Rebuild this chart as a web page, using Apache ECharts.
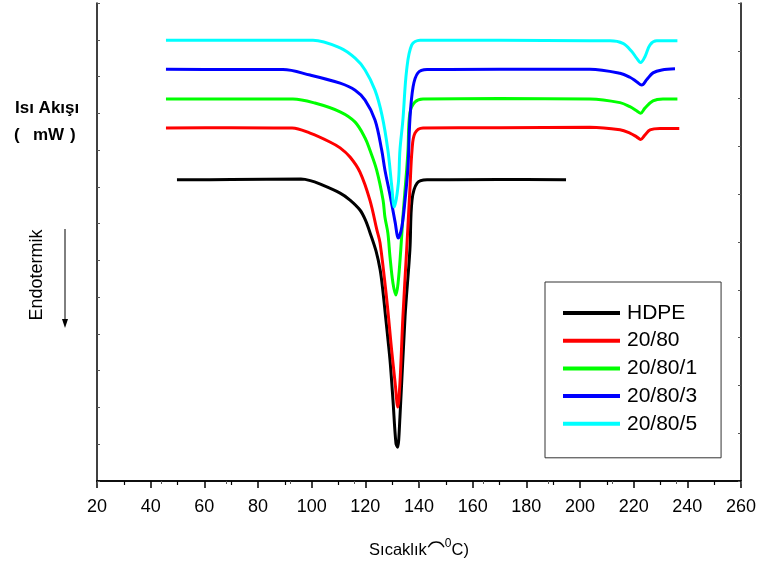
<!DOCTYPE html>
<html>
<head>
<meta charset="utf-8">
<script src="https://cdn.jsdelivr.net/npm/echarts@6/dist/echarts.min.js"></script>
<style>
  html, body { margin: 0; padding: 0; background: #fff; }
  #chart { width: 760px; height: 564px; }
</style>
</head>
<body>
<div id="chart"></div>
<script>
// DSC heating curves: temperature (°C) vs. heat flow (arbitrary offset, mW)
const seriesNames = ['HDPE', '20/80', '20/80/1', '20/80/3', '20/80/5'];
const seriesColors = ['#000000', '#ff0000', '#00ff00', '#0000ff', '#00ffff'];
const xTicks = [20, 40, 60, 80, 100, 120, 140, 160, 180, 200, 220, 240, 260];

const hdpe = [
  [49.8, 8.19], [70, 8.20], [96, 8.21], [99.5, 8.17], [103, 8.08], [110.6, 7.83],
  [114.3, 7.64], [118, 7.37], [120, 7.10], [122, 6.70], [124, 6.25], [125.5, 5.75],
  [126.5, 5.20], [127.5, 4.50], [128.5, 3.80], [129.3, 3.20], [130.3, 2.20], [131.4, 1.03],
  [132, 0.92], [132.9, 1.74], [134.8, 4.46], [136.6, 6.28], [137.4, 7.64], [139.3, 8.10],
  [143, 8.19], [170, 8.20], [194.8, 8.19]
];

const blend2080 = [
  [45.7, 9.60], [70, 9.61], [92.7, 9.60], [99.4, 9.46], [106.8, 9.22], [110.6, 9.06],
  [114.3, 8.81], [118.0, 8.40], [121.7, 7.64], [124.3, 6.83], [125.5, 6.47], [128.0, 4.92],
  [129.8, 3.56], [131.1, 2.67], [132.1, 2.01], [132.9, 2.67], [134.0, 4.46], [135.4, 6.28],
  [136.6, 7.91], [137.4, 9.00], [138.5, 9.46], [141.5, 9.60], [170, 9.61], [203.7, 9.62],
  [214.9, 9.55], [218.6, 9.46], [221.1, 9.36], [222.6, 9.29], [224.2, 9.41], [226.1, 9.55],
  [229.8, 9.59], [237.0, 9.59]
];

const blend2080_1 = [
  [45.7, 10.39], [70, 10.39], [93.0, 10.39], [101.2, 10.28], [110.6, 10.04], [116.2, 9.76],
  [119.9, 9.33], [121.7, 9.00], [124.2, 8.46], [126.6, 7.64], [127.3, 7.18], [128.4, 6.74],
  [129.2, 6.09], [130.3, 5.38], [131.4, 5.06], [132.2, 5.38], [133.2, 6.28], [134.0, 7.18],
  [135.4, 8.46], [135.9, 9.00], [136.6, 10.01], [138.5, 10.31], [141.5, 10.39], [170, 10.40],
  [203.7, 10.39], [214.9, 10.29], [218.6, 10.18], [221.1, 10.07], [222.6, 10.00], [224.2, 10.14],
  [227.2, 10.34], [230.9, 10.39], [236.3, 10.39]
];

const blend2080_3 = [
  [45.7, 11.20], [70, 11.19], [89.3, 11.19], [99.4, 11.04], [110.6, 10.82], [116.2, 10.63],
  [119.9, 10.36], [123.6, 9.82], [126.1, 9.00], [127.3, 8.46], [129.2, 7.78], [131.1, 7.04],
  [132.3, 6.61], [133.6, 6.91], [134.8, 7.64], [135.9, 8.54], [136.6, 9.82], [137.8, 10.72],
  [139.6, 11.10], [143.0, 11.19], [170, 11.20], [203.7, 11.20], [214.9, 11.09], [218.6, 10.98],
  [221.1, 10.86], [223.0, 10.77], [224.9, 10.92], [227.2, 11.10], [230.5, 11.18], [235.4, 11.21]
];

const blend2080_5 = [
  [45.7, 11.99], [70, 11.99], [100.5, 11.99], [110.6, 11.78], [116.2, 11.50], [119.9, 11.18],
  [123.6, 10.63], [126.2, 9.95], [128.4, 9.00], [129.8, 8.05], [130.8, 7.45], [132.3, 8.10],
  [132.9, 9.00], [134.0, 9.82], [135.4, 11.18], [137.3, 11.86], [140.4, 11.99], [170, 11.99],
  [203.7, 11.97], [211.2, 11.97], [216.0, 11.90], [219.3, 11.68], [221.1, 11.50], [222.6, 11.38],
  [224.2, 11.54], [226.1, 11.86], [228.6, 11.97], [236.3, 11.97]
];

const curves = [hdpe, blend2080, blend2080_1, blend2080_3, blend2080_5];

const FONT = '"Liberation Sans", Arial, sans-serif';
const chart = echarts.init(document.getElementById('chart'), null, { renderer: 'canvas' });

const frameLine = { show: true, lineStyle: { color: '#000', width: 1.5 } };
const innerTick = { show: true, inside: true, length: 3, lineStyle: { color: '#555', width: 1 } };

chart.setOption({
  animation: false,
  backgroundColor: '#fff',
  grid: { left: 97, right: 19, top: 3, bottom: 83, containLabel: false, outerBoundsMode: 'none' },
  xAxis: [
    {
      type: 'value', position: 'bottom', min: xTicks[0], max: xTicks[xTicks.length - 1], interval: 20,
      axisLine: frameLine,
      axisTick: { show: true, inside: false, length: 7, lineStyle: { color: '#000', width: 1.5 } },
      minorTick: { show: true, splitNumber: 2, length: 4, lineStyle: { color: '#000', width: 1.2 } },
      splitLine: { show: false },
      axisLabel: { color: '#000', fontSize: 18, fontFamily: FONT, margin: 17 },
      name: '{t|Sıcaklık}{arc|⁀}{sup|0}{t|C)}',
      nameLocation: 'middle', nameGap: 47,
      nameTextStyle: {
        rich: {
          t: { fontSize: 16.5, fontFamily: FONT, color: '#000' },
          arc: { fontSize: 30, fontFamily: FONT, color: '#000', padding: [14, 0, 0, 0] },
          sup: { fontSize: 12, fontFamily: FONT, color: '#000', padding: [0, 0, 12, 0] }
        }
      }
    },
    {
      type: 'value', position: 'top', min: 0, max: 10, interval: 1,
      axisLine: frameLine, axisTick: innerTick,
      axisLabel: { show: false }, splitLine: { show: false }
    }
  ],
  yAxis: [
    {
      type: 'value', position: 'left', min: 0, max: 13, interval: 1,
      axisLine: frameLine, axisTick: innerTick,
      axisLabel: { show: false }, splitLine: { show: false }
    },
    {
      type: 'value', position: 'right', min: 0, max: 10, interval: 1,
      axisLine: frameLine, axisTick: innerTick,
      axisLabel: { show: false }, splitLine: { show: false }
    }
  ],
  legend: {
    orient: 'vertical', left: 545, top: 282,
    data: seriesNames,
    icon: 'rect', itemWidth: 57, itemHeight: 4, itemGap: 5.7,
    padding: [20, 24, 23, 18],
    borderColor: '#333', borderWidth: 1,
    textStyle: { color: '#000', fontSize: 21, fontFamily: FONT, lineHeight: 22, padding: [0, 0, 0, 2] }
  },
  series: curves.map((d, i) => ({
    name: seriesNames[i], type: 'line', data: d,
    xAxisIndex: 0, yAxisIndex: 0,
    smooth: 0.35, showSymbol: false, symbol: 'none',
    lineStyle: { color: seriesColors[i], width: 3 },
    itemStyle: { color: seriesColors[i] }
  })),
  graphic: [
    { type: 'text', left: 15, top: 100, style: { text: 'Isı Akışı', font: 'bold 17px ' + FONT, fill: '#000' } },
    { type: 'text', left: 14, top: 127, style: { text: '(', font: 'bold 17px ' + FONT, fill: '#000' } },
    { type: 'text', left: 33, top: 127, style: { text: 'mW', font: 'bold 17px ' + FONT, fill: '#000' } },
    { type: 'text', left: 70, top: 127, style: { text: ')', font: 'bold 17px ' + FONT, fill: '#000' } },
    { type: 'text', x: 37, y: 275, rotation: Math.PI / 2,
      style: { text: 'Endotermik', font: '18px ' + FONT, fill: '#000', align: 'center', verticalAlign: 'middle' } },
    { type: 'line', shape: { x1: 65, y1: 229, x2: 65, y2: 322 }, style: { stroke: '#000', lineWidth: 1 } },
    { type: 'polygon', shape: { points: [[62, 319], [68, 319], [65, 328]] }, style: { fill: '#000' } }
  ]
});
</script>
</body>
</html>
